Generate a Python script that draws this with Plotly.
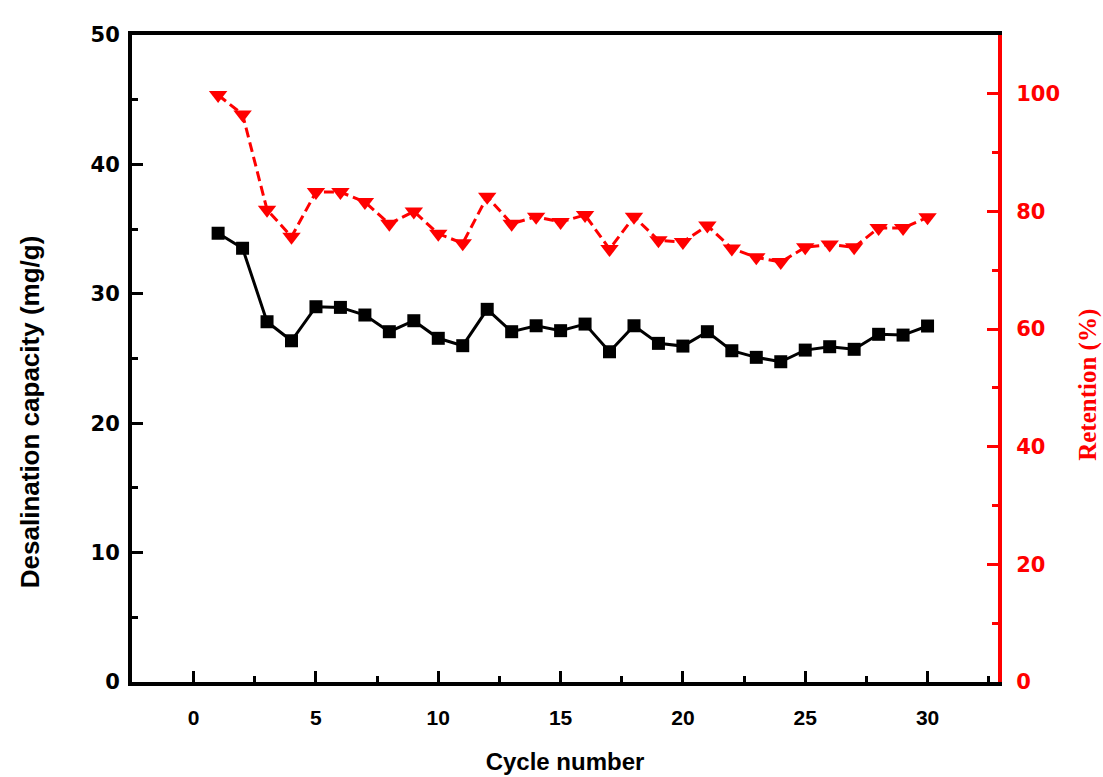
import plotly.graph_objects as go

cycles = list(range(1, 31))
capacity = [34.68, 33.52, 27.84, 26.37, 29.00, 28.95, 28.36, 27.07, 27.92, 26.56,
            25.99, 28.80, 27.07, 27.53, 27.15, 27.66, 25.52, 27.53, 26.17, 25.96,
            27.07, 25.60, 25.09, 24.75, 25.65, 25.91, 25.71, 26.87, 26.81, 27.51]
retention = [99.8, 96.5, 80.3, 75.7, 83.3, 83.3, 81.6, 77.9, 80.0, 76.2,
             74.6, 82.5, 77.9, 79.1, 78.2, 79.4, 73.6, 79.1, 75.1, 74.8,
             77.6, 73.7, 72.2, 71.4, 73.9, 74.4, 73.9, 77.2, 77.2, 79.0]

RED = "#ff0000"

fig = go.Figure()
fig.add_trace(go.Scatter(
    x=cycles, y=capacity, mode="lines+markers",
    line=dict(color="black", width=3),
    marker=dict(symbol="square", size=13, color="black"),
    showlegend=False))
fig.add_trace(go.Scatter(
    x=cycles, y=retention, mode="lines+markers", yaxis="y2",
    line=dict(color=RED, width=3, dash="10px,5px"),
    marker=dict(symbol="triangle-down", size=16, color=RED),
    showlegend=False))

fig.update_layout(
    width=1103, height=777,
    margin=dict(l=132, r=105, t=35, b=95),
    paper_bgcolor="white", plot_bgcolor="white",
    xaxis=dict(range=[-2.52, 32.88], tickvals=[0, 5, 10, 15, 20, 25, 30],
               ticks="inside", ticklen=11, tickwidth=3, tickcolor="black",
               minor=dict(ticks="inside", ticklen=6, tickwidth=3, dtick=2.5, tick0=0, tickcolor="black"),
               showline=True, linewidth=4, linecolor="black", mirror=True,
               showgrid=False, zeroline=False, ticklabelstandoff=14, automargin=False,
               tickfont=dict(family="Liberation Sans, Arial", size=21, color="black", weight="bold"),
               title=dict(text="<b>Cycle number</b>", standoff=26,
                          font=dict(family="Liberation Sans, Arial", size=24, color="black"))),
    yaxis=dict(range=[0, 50], tickvals=[0, 10, 20, 30, 40, 50],
               ticks="inside", ticklen=11, tickwidth=3, tickcolor="black",
               minor=dict(ticks="inside", ticklen=6, tickwidth=3, dtick=5, tick0=0, tickcolor="black"),
               showline=True, linewidth=4, linecolor="black", automargin=False,
               showgrid=False, zeroline=False, ticklabelstandoff=4,
               tickfont=dict(family="DejaVu Sans", size=21, color="black", weight="bold")),
    yaxis2=dict(range=[0, 110], tickvals=[0, 20, 40, 60, 80, 100],
                overlaying="y", side="right", automargin=False,
                ticks="inside", ticklen=11, tickwidth=3, tickcolor=RED,
                minor=dict(ticks="inside", ticklen=6, tickwidth=3, dtick=10, tick0=0, tickcolor=RED),
                showline=True, linewidth=4, linecolor=RED,
                showgrid=False, zeroline=False, ticklabelstandoff=10,
                tickfont=dict(family="DejaVu Sans", size=21, color=RED, weight="bold")),
    annotations=[
        dict(text="<b>Desalination capacity (mg/g)</b>", xref="paper", yref="paper",
             x=(30 - 132) / 866.3, y=(681.7 - 412) / 646.7, showarrow=False, textangle=-90,
             xanchor="center", yanchor="middle",
             font=dict(family="Liberation Sans, Arial", size=26, color="black")),
        dict(text="<b>Retention (%)</b>", xref="paper", yref="paper",
             x=(1088 - 132) / 866.3, y=(681.7 - 385) / 646.7, showarrow=False, textangle=-90,
             xanchor="center", yanchor="middle",
             font=dict(family="Liberation Serif, Times New Roman", size=25, color=RED)),
    ],
)

fig.write_html("out.html")
